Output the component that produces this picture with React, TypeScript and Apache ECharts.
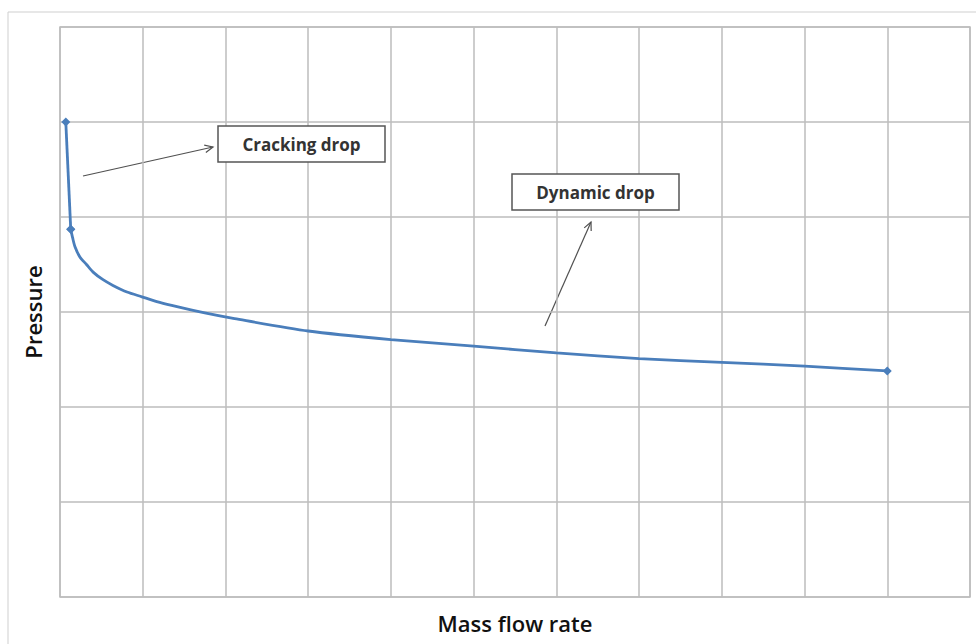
import React, { useEffect, useRef } from "react";
import * as echarts from "echarts";

// Data (x: mass flow rate in grid units, y: pressure in grid units)
const crackX = [0.07, 0.13];
const crackY = [5.0, 3.87];
const dynX = [0.13, 0.153, 0.18, 0.24, 0.32, 0.4, 0.52, 0.64, 0.81, 0.99, 1.17, 1.35, 1.75, 2.11, 3.0, 4.0, 5.0, 6.0, 7.0, 8.0, 9.0, 10.0];
const dynY = [3.87, 3.78, 3.69, 3.58, 3.5, 3.42, 3.34, 3.28, 3.21, 3.16, 3.11, 3.07, 2.99, 2.93, 2.8, 2.71, 2.64, 2.57, 2.51, 2.47, 2.43, 2.38];
const markerIdx = [0, 21]; // markers on dynamic series (start and end)
const xAxisName = "Mass flow rate";
const yAxisName = "Pressure";
const labels = ["Cracking drop", "Dynamic drop"];

const LINE = "#4a7ebb";
const GRIDC = "#bdbdbd";
const FONT = "'Open Sans', 'Noto Sans', sans-serif";

function arrow(x1: number, y1: number, x2: number, y2: number) {
  const dx = x2 - x1, dy = y2 - y1;
  const len = Math.hypot(dx, dy);
  const ux = dx / len, uy = dy / len;
  const L = 9, a = (25 * Math.PI) / 180;
  const c = Math.cos(a), s = Math.sin(a);
  const r1 = [ux * c - uy * s, ux * s + uy * c];
  const r2 = [ux * c + uy * s, -ux * s + uy * c];
  const stroke = { stroke: "#505050", lineWidth: 1.2, fill: null as any };
  return [
    { type: "line", shape: { x1, y1, x2, y2 }, style: stroke, silent: true },
    {
      type: "polyline",
      shape: { points: [[x2 - L * r1[0], y2 - L * r1[1]], [x2, y2], [x2 - L * r2[0], y2 - L * r2[1]]] },
      style: stroke,
      silent: true,
    },
  ];
}

function box(x: number, y: number, w: number, h: number, text: string) {
  return [
    { type: "rect", shape: { x, y, width: w, height: h }, style: { fill: "#fff", stroke: "#555", lineWidth: 1.5 }, z: 10 },
    {
      type: "text",
      x: x + w / 2,
      y: y + h / 2,
      z: 11,
      style: { text, fill: "#333", font: `bold 17px ${FONT}`, align: "center", verticalAlign: "middle" },
    },
  ];
}

export default function App() {
  const ref = useRef<HTMLDivElement>(null);
  useEffect(() => {
    if (!ref.current) return;
    const chart = echarts.init(ref.current, undefined, { renderer: "svg" });
    chart.setOption({
      animation: false,
      backgroundColor: "#fff",
      grid: {
        left: 60, right: 6, top: 27, bottom: 47,
        outerBoundsMode: "none",
        show: true, borderColor: GRIDC, borderWidth: 1.5,
      },
      xAxis: {
        type: "value",
        min: 0,
        max: 11,
        interval: 1,
        name: xAxisName,
        nameLocation: "middle",
        nameGap: 15,
        nameTextStyle: { fontFamily: FONT, fontSize: 22, fontWeight: 600, color: "#111" },
        axisLabel: { show: false },
        axisTick: { show: false },
        axisLine: { show: false },
        splitLine: { show: true, lineStyle: { color: GRIDC, width: 1.5 } },
      },
      yAxis: {
        type: "value",
        min: 0,
        max: 6,
        interval: 1,
        name: yAxisName,
        nameLocation: "middle",
        nameGap: 16,
        nameTextStyle: { fontFamily: FONT, fontSize: 22, fontWeight: 600, color: "#111" },
        axisLabel: { show: false },
        axisTick: { show: false },
        axisLine: { show: false },
        splitLine: { show: true, lineStyle: { color: GRIDC, width: 1.5 } },
      },
      series: [
        {
          type: "line",
          data: crackX.map((x, i) => [x, crackY[i]]),
          symbol: "diamond",
          symbolSize: 9,
          showSymbol: true,
          lineStyle: { color: LINE, width: 2.8 },
          itemStyle: { color: LINE },
          z: 3,
        },
        {
          type: "line",
          smooth: 0.25,
          data: dynX.map((x, i) => ({
            value: [x, dynY[i]],
            symbol: markerIdx.includes(i) ? "diamond" : "none",
          })),
          symbolSize: 9,
          showSymbol: true,
          lineStyle: { color: LINE, width: 2.8 },
          itemStyle: { color: LINE },
          z: 3,
        },
      ],
      graphic: [
        { type: "rect", shape: { x: 8, y: 12, width: 1000, height: 700 }, style: { fill: null, stroke: "#cfcfcf", lineWidth: 1 }, silent: true },
        ...arrow(83, 176, 213, 147),
        ...box(218, 126, 167, 36, labels[0]),
        ...arrow(545, 326, 591, 222),
        ...box(512, 174, 167, 36, labels[1]),
      ],
    });
    return () => chart.dispose();
  }, []);
  return <div ref={ref} style={{ position: "fixed", left: 0, top: 0, width: 976, height: 644 }} />;
}
